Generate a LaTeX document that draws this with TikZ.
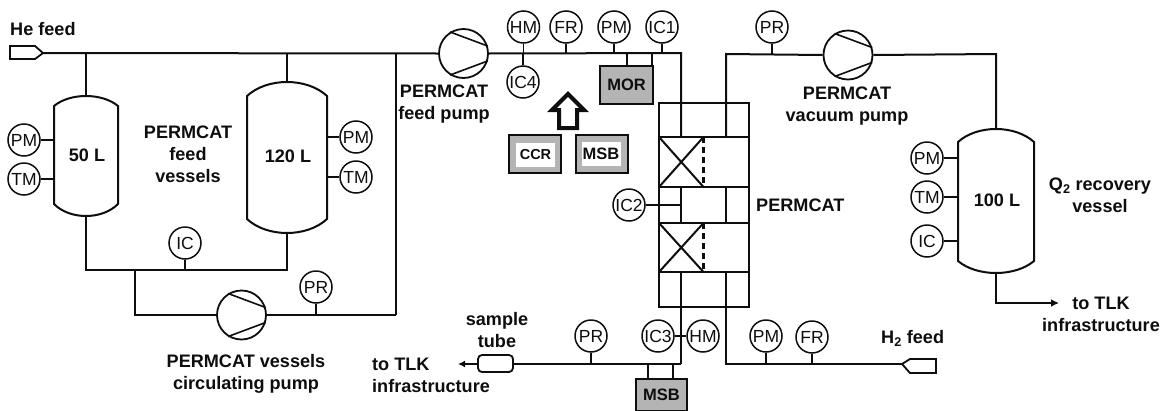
\documentclass[tikz,border=0pt]{standalone}
\usepackage{fontspec}
\setmainfont{Liberation Sans}
\usetikzlibrary{arrows.meta}
\definecolor{ink}{HTML}{0E0E0E}
\definecolor{boxgray}{HTML}{B4B4B4}
\tikzset{
  pipe/.style={draw=ink,line width=2pt,line join=miter},
  stem/.style={draw=ink,line width=1.4pt},
  inst/.style={circle,draw=ink,line width=1.5pt,fill=white,minimum size=32pt,inner sep=0pt,font=\fontsize{17.5}{19}\selectfont,text=ink},
  lbl/.style={font=\fontsize{18.1}{22}\selectfont\bfseries,text=ink,align=center,inner sep=0pt},
  pumpc/.style={circle,draw=ink,line width=1.8pt,fill=white,minimum size=48pt,inner sep=0pt},
  grayb/.style={draw=ink,line width=2.2pt,fill=boxgray,inner sep=0pt,text=ink,font=\fontsize{16.5}{18}\selectfont\bfseries},
  whiteb/.style={fill=white,inner sep=0pt,text=ink,font=\fontsize{16}{18}\selectfont\bfseries}
}
% name, cx, half width, top, top shoulder, bottom shoulder, bottom, label
\newcommand{\vesselshape}[8]{%
  \pgfmathsetmacro{\vl}{#2-#3}\pgfmathsetmacro{\vr}{#2+#3}%
  \pgfmathsetmacro{\vt}{#5-(#5-#4)*4/3}\pgfmathsetmacro{\vb}{#6+(#7-#6)*4/3}%
  \pgfmathsetmacro{\val}{#2-#3*0.5}\pgfmathsetmacro{\var}{#2+#3*0.5}%
  \pgfmathsetmacro{\vm}{(#4+#7)/2}%
  \draw[pipe] (\vl,#5) .. controls (\val,\vt) and (\var,\vt) .. (\vr,#5) -- (\vr,#6)
     .. controls (\var,\vb) and (\val,\vb) .. (\vl,#6) -- cycle;
  \coordinate (#1T) at (#2,#4);
  \coordinate (#1B) at (#2,#7);
  \node[lbl] (#1) at (#2+1,\vm-1) {#8};
}
% blades of a pump
\newcommand{\blades}[1]{%
  \draw[pipe,line width=1.6pt] (#1.122) -- (#1.17);
  \draw[pipe,line width=1.6pt] (#1.238) -- (#1.343);
}
\begin{document}
\begin{tikzpicture}[x=1pt,y=-1pt]
\useasboundingbox (0,0) rectangle (1164,410);
\fill[white] (0,0) rectangle (1164,410);

% vessels
\vesselshape{vA}{86}{32}{96}{106}{204}{216}{50 L}
\vesselshape{vB}{287}{40}{82}{96}{219}{233}{120 L}
\vesselshape{vC}{996}{38}{129}{142}{261}{273}{100 L}

% junctions
\coordinate (heTip) at (43,53);
\coordinate (jA) at (86,53);
\coordinate (jB) at (287,53);
\coordinate (jC) at (396,53);
\coordinate (jE) at (681,53);
\coordinate (jF) at (681,137);
\coordinate (jG) at (726,137);
\coordinate (jH) at (726,54);
\coordinate (jI) at (996,54);
\coordinate (jJ) at (86,270);
\coordinate (jK) at (287,270);
\coordinate (jL) at (135,270);
\coordinate (jM) at (135,315);
\coordinate (jN) at (396,315);
\coordinate (jO) at (681,272);
\coordinate (jP) at (681,364);
\coordinate (jQ) at (726,272);
\coordinate (jR) at (726,364);
\coordinate (jS) at (996,303);
\coordinate (outR) at (1059,303);
\coordinate (outL) at (458,364);
\coordinate (h2Tip) at (902,364);

% pumps
\node[pumpc,minimum size=49pt] (pumpF) at (463.5,53.5) {};
\node[pumpc,minimum size=49pt] (pumpC) at (241.5,315) {};
\node[pumpc,minimum size=49pt] (pumpV) at (848,55) {};
\blades{pumpF}\blades{pumpC}\blades{pumpV}

% main pipes
\draw[pipe] (heTip) -- (pumpF.west);
\draw[pipe] (jA) -- (vAT);
\draw[pipe] (jB) -- (vBT);
\draw[pipe] (jC) -- (jN);
\draw[pipe] (pumpC.east) -- (jN);
\draw[pipe] (vAB) -- (jJ) -- (jK) -- (vBB);
\draw[pipe] (jL) -- (jM) -- (pumpC.west);
\draw[pipe] (pumpF.east) -- (jE) -- (jF);
\draw[pipe] (jG) -- (jH) -- (pumpV.west);
\draw[pipe] (pumpV.east) -- (jI) -- (vCT);
\draw[pipe] (jO) -- (jP);
\draw[pipe] (jQ) -- (jR) -- (h2Tip);
\draw[pipe,-{Latex[length=8pt,width=8pt]}] (vCB) -- (jS) -- (outR);

% feed connectors
\draw[pipe,line width=1.8pt,fill=white] (10,46) -- (35,46) -- (heTip) -- (35,59) -- (10,59) -- cycle;
\draw[pipe,line width=1.8pt,fill=white] (h2Tip) -- (910,359) -- (936,359) -- (936,373) -- (910,373) -- cycle;

% PERMCAT unit
\coordinate (uTL) at (659,103);
\coordinate (uBR) at (749,307);
\draw[pipe] (uTL) rectangle (uBR);
\foreach \yy in {137,187,223,272} \draw[pipe] (659,\yy) -- (749,\yy);
\draw[pipe] (681,103) -- (681,137);
\draw[pipe] (726,103) -- (726,137);
\draw[pipe] (681,187) -- (681,223);
\draw[pipe] (726,187) -- (726,223);
\draw[pipe] (726,272) -- (726,307);
\foreach \ya/\yb in {137/187,223/272}{
  \draw[pipe] (659,\ya) -- (703.5,\yb);
  \draw[pipe] (659,\yb) -- (703.5,\ya);
  \draw[pipe,line width=2.2pt,dash pattern=on 6pt off 4pt] (703.5,\ya) -- (703.5,\yb);
}

% MOR / MSB boxes
\node[grayb,minimum width=53pt,minimum height=38pt] (mor) at (626.5,85) {MOR};
\draw[pipe] (627,53) -- (mor.north -| 627,0);
\draw[pipe] (652,53) -- (mor.north -| 652,0);
\node[grayb,minimum width=51pt,minimum height=32pt,anchor=north] (msbB) at (661.5,378) {MSB};
\draw[pipe] (648,364) -- (msbB.north -| 648,0);
\draw[pipe] (673,364) -- (msbB.north -| 673,0);

\node[grayb,minimum width=52pt,minimum height=38pt] (ccrO) at (535,154) {};
\node[whiteb,minimum width=39pt,minimum height=24pt,font=\fontsize{14.5}{16}\selectfont\bfseries] (ccr) at (535.5,155) {CCR};
\node[grayb,minimum width=52pt,minimum height=38pt] (msbO) at (602,154) {};
\node[whiteb,minimum width=39pt,minimum height=24pt,font=\fontsize{16.5}{18}\selectfont\bfseries] (msb) at (601,153.5) {MSB};

% block arrow
\draw[draw=ink,line width=4pt,fill=white,line join=miter] (568,94) -- (584,110) -- (577,110) -- (577,128) -- (559,128) -- (559,110) -- (552,110) -- cycle;

% sample tube
\draw[pipe,-{Latex[length=7pt,width=7pt]}] (jP) -- (outL);
\node[draw=ink,line width=1.8pt,fill=white,rounded corners=4pt,minimum width=35pt,minimum height=17pt,inner sep=0pt] (tube) at (495.5,363.5) {};

% instruments
\node[inst] (hm1) at (523.5,27) {HM};
\node[inst] (ic4) at (523,82) {IC4};
\node[inst] (fr1) at (566,27) {FR};
\node[inst] (pm1) at (614,27) {PM};
\node[inst] (ic1) at (662,27) {IC1};
\node[inst] (pr1) at (772,27) {PR};
\node[inst] (pmA) at (24,140) {PM};
\node[inst] (tmA) at (24,179) {TM};
\node[inst] (pmB) at (356,137) {PM};
\node[inst] (tmB) at (356,177) {TM};
\node[inst] (ic0) at (185,243) {IC};
\node[inst] (pr0) at (316,287) {PR};
\node[inst] (ic2) at (629,205) {IC2};
\node[inst] (pr2) at (591,336) {PR};
\node[inst] (ic3) at (658,336) {IC3};
\node[inst] (hm2) at (703,336) {HM};
\node[inst] (pm2) at (766,336) {PM};
\node[inst] (fr2) at (812,337) {FR};
\node[inst] (pmC) at (927,158) {PM};
\node[inst] (tmC) at (927,197) {TM};
\node[inst] (icC) at (927,241) {IC};

\draw[stem] (hm1) -- (hm1 |- jE);
\draw[stem] (ic4) -- (ic4 |- jE);
\draw[stem] (fr1) -- (fr1 |- jE);
\draw[stem] (pm1) -- (pm1 |- jE);
\draw[stem] (ic1) -- (ic1 |- jE);
\draw[stem] (pr1) -- (pr1 |- jH);
\draw[stem] (pmA) -- (54,140);
\draw[stem] (tmA) -- (54,179);
\draw[stem] (pmB) -- (327,137);
\draw[stem] (tmB) -- (327,177);
\draw[stem] (ic0) -- (ic0 |- jJ);
\draw[stem] (pr0) -- (pr0 |- jN);
\draw[stem] (ic2) -- (681,205);
\draw[stem] (pr2) -- (pr2 |- jP);
\draw[stem] (ic3) -- (hm2);
\draw[stem] (pm2) -- (pm2 |- jR);
\draw[stem] (fr2) -- (fr2 |- jR);
\draw[stem] (pmC) -- (958,158);
\draw[stem] (tmC) -- (958,197);
\draw[stem] (icC) -- (958,241);

% labels
\node[lbl,anchor=west] (tHe) at (10,29) {He feed};
\node[lbl] (tFV) at (188,154.5) {PERMCAT\\feed\\vessels};
\node[lbl] (tFP) at (444,104.5) {PERMCAT\\feed pump};
\node[lbl] (tVP) at (847,106.5) {PERMCAT\\vacuum pump};
\node[lbl,anchor=west] (tPC) at (756,205) {PERMCAT};
\node[lbl] (tQ) at (1100,195) {Q\textsubscript{2} recovery\\vessel};
\node[lbl] (tO) at (1101,314) {to TLK\\infrastructure};
\node[lbl] (tS) at (497,330.5) {sample\\tube};
\node[lbl,align=left,anchor=west] (tL) at (372,375) {to TLK\\infrastructure};
\node[lbl] (tCP) at (246,374) {PERMCAT vessels\\circulating pump};
\node[lbl,anchor=west] (tH) at (881,338) {H\textsubscript{2} feed};
\end{tikzpicture}
\end{document}
